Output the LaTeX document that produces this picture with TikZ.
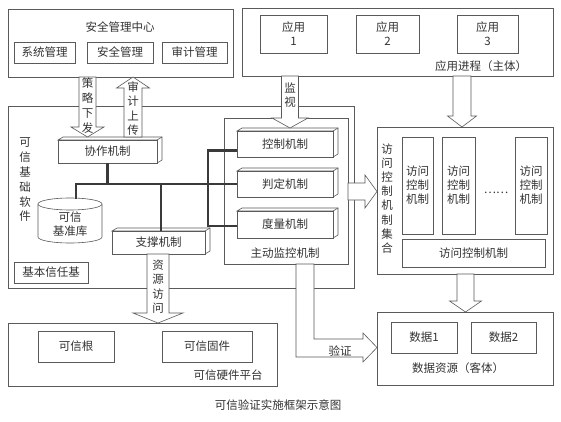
\documentclass[tikz,border=0pt]{standalone}
\usepackage{fontspec}
\setmainfont{Noto Sans CJK SC}
\definecolor{lc}{HTML}{5A5A5A}
\definecolor{tc}{HTML}{333333}
\definecolor{bc}{HTML}{3A3A3A}
\newcommand\fsn{\fontsize{11.5}{14}\selectfont}
\newcommand\fsa{\fontsize{11.5}{16}\selectfont}
\newcommand\fsv[1]{\fontsize{11.5}{#1}\selectfont}
\newcommand\rb[6]{\node[boxst, minimum width={(#4-#2)*1pt}, minimum height={(#5-#3)*1pt}] (#1) at ({(#2+#4)/2},{(#3+#5)/2}) {#6};}
\newcommand\tb[6]{\draw[ln, fill=white] (#2,#3) -- ({#2+5},{#3-3}) -- ({#4+5},{#3-3}) -- ({#4+5},{#5-3}) -- (#4,#5) -- (#4,#3) -- cycle;
  \draw[ln] (#4,#3) -- ({#4+5},{#3-3});
  \rb{#1}{#2}{#3}{#4}{#5}{#6}}
% down/up block arrow: cx, ystart, ybase, ytip, shaft half, head half
\newcommand\vblk[6]{\draw[arr] ({#1-#5},#2) -- ({#1-#5},#3) -- ({#1-#6},#3) -- (#1,#4) -- ({#1+#6},#3) -- ({#1+#5},#3) -- ({#1+#5},#2) -- cycle;}
% right block arrow: cy, xstart, xbase, xtip, shaft half, head half
\newcommand\hblk[6]{\draw[arr] (#2,{#1-#5}) -- (#3,{#1-#5}) -- (#3,{#1-#6}) -- (#4,#1) -- (#3,{#1+#6}) -- (#3,{#1+#5}) -- (#2,{#1+#5}) -- cycle;}
\begin{document}
\begin{tikzpicture}[x=1pt,y=-1pt,
  ln/.style={draw=lc, line width=0.6pt},
  boxst/.style={ln, fill=white, rectangle, inner sep=0pt, font=\fsn, text=tc, align=center},
  lbl/.style={inner sep=0pt, font=\fsn, text=tc, align=center},
  bus/.style={draw=bc, line width=2.4pt},
  arr/.style={ln, fill=white, line join=miter}]
\useasboundingbox (0,0) rectangle (561,422);
\fill[white] (0,0) rectangle (561,422);

% security management centre
\rb{smc}{8}{9}{233}{77}{}
\node[lbl] (smct) at (120,27) {安全管理中心};
\rb{sys}{14}{42}{75}{63}{系统管理}
\rb{sec}{87}{42}{153}{63}{安全管理}
\rb{aud}{162}{42}{227}{63}{审计管理}

% applications
\rb{app}{242}{8}{553}{76}{}
\rb{app1}{260}{15}{327}{53}{\fsa 应用\\1}
\rb{app2}{356}{15}{419}{53}{\fsa 应用\\2}
\rb{app3}{457}{15}{518}{53}{\fsa 应用\\3}
\node[lbl] (appt) at (481,66) {应用进程（主体）};

% trusted base software
\rb{tbs}{8}{106}{354}{288}{}
\node[lbl, font=\fsv{14.8}] (tbst) at (25,180) {可\\信\\基\\础\\软\\件};
\rb{btb}{14}{262}{88}{283}{基本信任基}

% active monitoring
\rb{amc}{224}{118}{348}{264}{}
\node[lbl] (amct) at (285,253) {主动监控机制};

% access control set
\rb{acs}{377}{127}{553}{274}{}
\node[lbl, font=\fsv{14.1}] (acst) at (387,198.5) {访\\问\\控\\制\\机\\制\\集\\合};
\rb{ac1}{402}{137}{433}{234}{\fsv{15}访问\\控制\\机制}
\rb{ac2}{442}{137}{475}{234}{\fsv{15}访问\\控制\\机制}
\rb{ac3}{515}{137}{547}{234}{\fsv{15}访问\\控制\\机制}
\node[lbl] (dots) at (496,193) {……};
\rb{acm}{402}{239}{545}{267}{访问控制机制}

% data resources
\rb{ds}{377}{312}{553}{385}{}
\rb{d1}{391}{322}{457}{353}{数据1}
\rb{d2}{471}{322}{536}{353}{数据2}
\node[lbl] (dst) at (458,368) {数据资源（客体）};

% hardware platform
\rb{hw}{8}{323}{277}{386}{}
\rb{root}{38}{331}{114}{362}{可信根}
\rb{firm}{162}{331}{252}{362}{可信固件}
\node[lbl] (hwt) at (228,375) {可信硬件平台};

% 3D boxes
\tb{xz}{58}{140}{157}{163}{协作机制}
\tb{zc}{112}{231}{205}{254}{支撑机制}
\tb{kz}{237}{131}{333}{157}{控制机制}
\tb{pd}{237}{171}{333}{197}{判定机制}
\tb{dl}{237}{211}{333}{238}{度量机制}

% cylinder
\draw[ln, fill=white] (38,204) -- (38,237) arc[start angle=180, end angle=360, x radius=32pt, y radius=6pt] -- (102,204);
\draw[ln, fill=white] (70,204) ellipse [x radius=32pt, y radius=6pt];
\node[lbl] (db) at (70,224) {可信\\基准库};
\coordinate (dbtop) at (76,198.5);

% bus lines
\draw[bus] (xz.south) -- (xz.south |- pd.west);
\draw[bus] (dbtop) |- (pd.west);
\draw[bus] ([xshift=2.5pt]zc.north) -- ([xshift=2.5pt]zc.north |- pd.west);
\draw[bus] ([yshift=7pt]kz.south west) -- ++(-29,0) |- ([yshift=-1.5pt]dl.west);

% block arrows
\vblk{87.5}{77}{127}{137}{8.5}{16.5}
\node[lbl, font=\fsv{15}] (clxf) at (87.5,105.5) {策\\略\\下\\发};
\vblk{133}{137}{88}{77}{9}{16.5}
\node[lbl, font=\fsv{14.5}] (sjsc) at (133,108.75) {审\\计\\上\\传};
\vblk{290}{76}{118}{128}{8.5}{18}
\node[lbl, font=\fsv{14}] (jsh) at (290,95) {监\\视};
\vblk{462}{76}{116}{127}{9}{14.5}
\hblk{191.5}{348}{365}{377}{8.5}{16.5}
\vblk{465.5}{274}{301}{312}{8.5}{16}
\vblk{158}{254}{313}{323}{11}{25}
\node[lbl, font=\fsv{14.5}] (zyfw) at (158,286.75) {资\\源\\访\\问};
\draw[arr] (296,264) -- (296,357) -- (363,357) -- (363,362) -- (377,347.5) -- (363,333) -- (363,339) -- (314,339) -- (314,264) -- cycle;
\node[lbl] (yz) at (340,351) {验证};

% caption
\node[lbl] (cap) at (278,405) {可信验证实施框架示意图};
\end{tikzpicture}
\end{document}
